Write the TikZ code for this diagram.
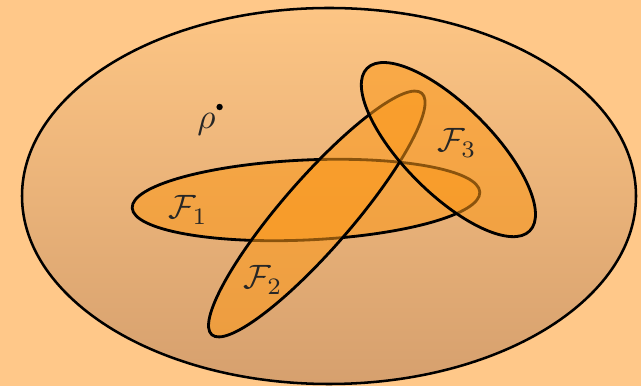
\documentclass[tikz,border=0pt]{standalone}
\usepackage{amsmath}
\usepackage{graphicx}
\usepackage{xcolor}
\usepackage{tikz}
\usetikzlibrary{positioning}
\definecolor{fondOrange}{RGB}{255, 200, 137}
\definecolor{ensHaut}{RGB}{253, 197, 132}
\definecolor{ensBas}{RGB}{214, 160, 110}
\definecolor{orangeSous}{RGB}{252, 152, 25}
\newcommand{\grandlab}[1]{\scalebox{2.4}{$#1$}}

\begin{document}
\begin{tikzpicture}[
  bigset/.style={draw=black, line width=1.8pt, top color=ensHaut,
    bottom color=ensBas},
  subset/.style={draw=black, line width=2pt, fill=orangeSous,
    fill opacity=0.55, draw opacity=1},
  lab/.style={text=black!85, inner sep=0pt},
]
\fill[fondOrange] (0, 0) rectangle (16.025, 9.65);
\useasboundingbox (0, 0) rectangle (16.025, 9.65);
% ensemble des etats
\path[bigset] (8.225, 4.75) ellipse [x radius=7.675, y radius=4.7];
% les trois faces
\path[subset] (7.65, 4.65) ellipse [x radius=4.35, y radius=1.0, rotate=2.6];
\path[subset] (7.92, 4.3) ellipse [x radius=4.0, y radius=0.875, rotate=49];
\path[subset] (11.21, 5.91) ellipse [x radius=2.875, y radius=1.1, rotate=-45];
\node[lab] (f1) at (4.7, 4.4) {\grandlab{\mathcal{F}_1}};
\node[lab] (f2) at (6.57, 2.65) {\grandlab{\mathcal{F}_2}};
\node[lab] (f3) at (11.42, 6.075) {\grandlab{\mathcal{F}_3}};
\node[lab] (rho) at (5.16, 6.55) {\scalebox{2.5}{$\rho$}};
\fill (5.49, 6.975) circle (0.08);
\end{tikzpicture}
\end{document}
